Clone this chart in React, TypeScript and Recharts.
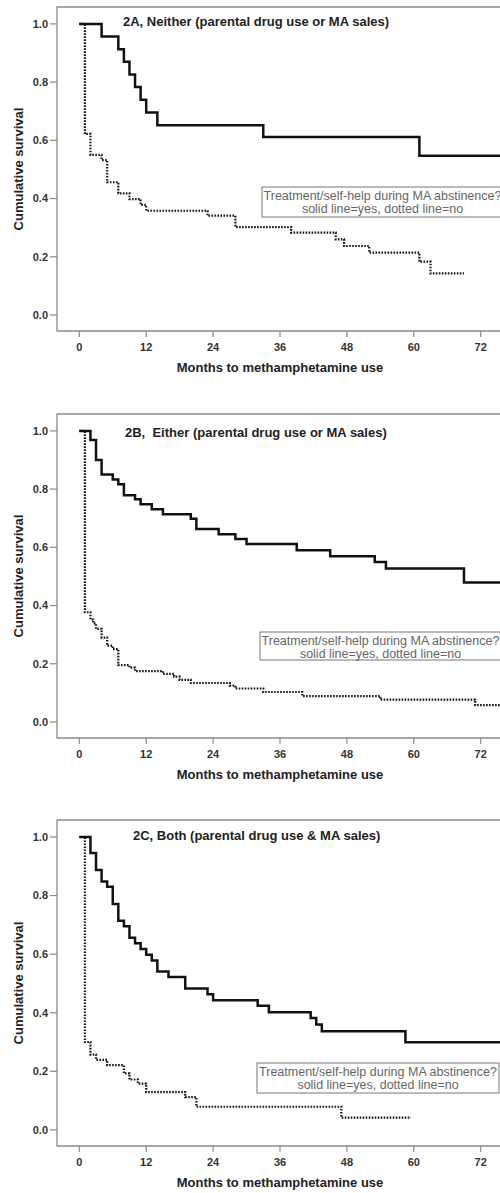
import React from 'react'
import { LineChart, Line, XAxis, YAxis, ReferenceArea } from 'recharts'

// months to MA use vs. cumulative survival
// solid = treatment/self-help yes, dotted = no

const neitherYes = [
  [0, 1], [4, 0.957], [7, 0.913], [8, 0.87], [9, 0.826], [10, 0.783], [11, 0.739],
  [12, 0.696], [14, 0.652], [33, 0.611], [61, 0.547], [76, 0.547],
]
const neitherNo = [
  [0, 1], [1, 0.622], [2, 0.55], [4, 0.532], [5, 0.456], [7, 0.418], [9, 0.398],
  [11, 0.378], [12, 0.358], [23, 0.341], [28, 0.302], [38, 0.283], [46, 0.26],
  [47.5, 0.237], [52, 0.214], [61, 0.183], [63, 0.143], [69, 0.143],
]

const eitherYes = [
  [0, 1], [2, 0.969], [3, 0.9], [4, 0.85], [6, 0.833], [7, 0.817], [8, 0.779],
  [10, 0.765], [11, 0.748], [13, 0.731], [15, 0.714], [20, 0.698], [21, 0.663],
  [25, 0.645], [28, 0.629], [30, 0.611], [39, 0.59], [45, 0.569], [53, 0.55],
  [55, 0.527], [69, 0.479], [76, 0.479],
]
const eitherNo = [
  [0, 1], [1, 0.377], [2, 0.352], [2.5, 0.339], [3, 0.32], [4, 0.29], [5, 0.262],
  [6, 0.25], [7, 0.195], [9, 0.187], [10, 0.175], [15, 0.165], [17, 0.156],
  [18, 0.145], [20, 0.134], [27, 0.125], [28, 0.115], [33, 0.103], [40, 0.089],
  [54, 0.077], [71, 0.058], [76, 0.058],
]

const bothYes = [
  [0, 1], [2, 0.945], [3, 0.887], [4, 0.848], [5, 0.83], [6, 0.771], [7, 0.714],
  [8, 0.695], [9, 0.656], [10, 0.637], [11, 0.618], [12, 0.598], [13, 0.578],
  [14, 0.541], [16, 0.522], [19, 0.483], [23, 0.463], [24, 0.443], [32, 0.424],
  [34, 0.402], [41.5, 0.382], [42.5, 0.36], [43.5, 0.337], [58.5, 0.299], [76, 0.299],
]
const bothNo = [
  [0, 1], [1, 0.3], [2, 0.257], [3, 0.239], [5, 0.221], [8, 0.193], [9, 0.172],
  [10.5, 0.158], [12, 0.129], [19, 0.112], [21, 0.079], [47, 0.042], [59.5, 0.042],
]

const MONTH_TICKS = [0, 12, 24, 36, 48, 60, 72]
const SURV_TICKS = [0, 0.2, 0.4, 0.6, 0.8, 1]

const PANEL_TITLES = [
  '2A, Neither (parental drug use or MA sales)',
  '2B,  Either (parental drug use or MA sales)',
  '2C, Both (parental drug use & MA sales)',
]
const LEGEND_LINES = [
  'Treatment/self-help during MA abstinence?',
  'solid line=yes, dotted line=no',
]
const X_TITLE = 'Months to methamphetamine use'
const Y_TITLE = 'Cumulative survival'

const X_MIN = -4
const X_MAX = 76
const Y_MIN = -0.055
const Y_MAX = 1.058

const FONT = '"Liberation Sans", Arial, sans-serif'
const GREY = '#8a8a8a'
const W = 520
const H = 406
const PLOT_RIGHT = 503
const XAXIS_H = 41

const toPts = (rows: number[][]) => rows.map(([t, s]) => ({ t, s }))

type PanelProps = {
  top: number
  plotH: number
  title: string
  titleX: number
  titleY: number
  box: { x: number; y: number; w: number; h: number }
  solid: number[][]
  dotted: number[][]
}

function Panel({ top, plotH, title, titleX, titleY, box, solid, dotted }: PanelProps) {
  const cx = box.x + box.w / 2
  return (
    <div style={{ position: 'absolute', left: 0, top }}>
      <LineChart
        width={W}
        height={H}
        margin={{ top: 7, right: W - PLOT_RIGHT, left: 0, bottom: H - 7 - plotH - XAXIS_H }}
      >
        <ReferenceArea
          x1={X_MIN} x2={X_MAX} y1={Y_MIN} y2={Y_MAX}
          fill="none" stroke={GREY} strokeWidth={1.3} ifOverflow="visible"
        />
        <XAxis
          type="number"
          dataKey="t"
          domain={[X_MIN, X_MAX]}
          ticks={MONTH_TICKS}
          allowDataOverflow
          height={XAXIS_H}
          axisLine={false}
          tickSize={6}
          tickMargin={6}
          tickLine={{ stroke: GREY, strokeWidth: 1.2 }}
          tick={{ fill: '#333', fontSize: 11, fontWeight: 'bold', fontFamily: FONT }}
          label={{
            value: X_TITLE, position: 'insideBottom', offset: 0,
            fill: '#222', fontSize: 13, fontWeight: 'bold', fontFamily: FONT,
          }}
        />
        <YAxis
          type="number"
          dataKey="s"
          domain={[Y_MIN, Y_MAX]}
          ticks={SURV_TICKS}
          allowDataOverflow
          width={57}
          axisLine={false}
          tickSize={7}
          tickMargin={2}
          tickLine={{ stroke: GREY, strokeWidth: 1.2 }}
          tickFormatter={(v: number) => v.toFixed(1)}
          tick={{ fill: '#333', fontSize: 11, fontWeight: 'bold', fontFamily: FONT }}
          label={{
            value: Y_TITLE, angle: -90, position: 'insideLeft', offset: 18,
            textAnchor: 'middle',
            fill: '#222', fontSize: 13, fontWeight: 'bold', fontFamily: FONT,
          }}
        />
        <Line
          data={toPts(dotted)}
          dataKey="s"
          type="stepAfter"
          stroke="#151515"
          strokeWidth={2.2}
          strokeDasharray="1.6 1.4"
          dot={false}
          activeDot={false}
          isAnimationActive={false}
        />
        <Line
          data={toPts(solid)}
          dataKey="s"
          type="stepAfter"
          stroke="#111"
          strokeWidth={2.5}
          dot={false}
          activeDot={false}
          isAnimationActive={false}
        />
        <text
          x={titleX} y={titleY}
          fill="#222" fontSize={13} fontWeight="bold" fontFamily={FONT}
          style={{ whiteSpace: 'pre' }}
        >
          {title}
        </text>
        <rect x={box.x} y={box.y} width={box.w} height={box.h} fill="#fff" stroke="#777" strokeWidth={1} />
        <text x={cx} y={box.y + 13.4} textAnchor="middle" fill="#666" fontSize={12.5} fontFamily={FONT}>
          {LEGEND_LINES[0]}
        </text>
        <text x={cx} y={box.y + 26.4} textAnchor="middle" fill="#666" fontSize={12.5} fontFamily={FONT}>
          {LEGEND_LINES[1]}
        </text>
      </LineChart>
    </div>
  )
}

export default function App() {
  return (
    <div
      style={{
        position: 'absolute', left: 0, top: 0, width: 500, height: 1193,
        overflow: 'hidden', background: '#fff',
      }}
    >
      <Panel
        top={0} plotH={324}
        title={PANEL_TITLES[0]} titleX={123} titleY={25.5}
        box={{ x: 262, y: 187, w: 241, h: 30 }}
        solid={neitherYes} dotted={neitherNo}
      />
      <Panel
        top={407} plotH={324}
        title={PANEL_TITLES[1]} titleX={125} titleY={30}
        box={{ x: 260, y: 225, w: 241, h: 28 }}
        solid={eitherYes} dotted={eitherNo}
      />
      <Panel
        top={813} plotH={326}
        title={PANEL_TITLES[2]} titleX={133} titleY={26.8}
        box={{ x: 257, y: 250, w: 242, h: 30 }}
        solid={bothYes} dotted={bothNo}
      />
    </div>
  )
}
